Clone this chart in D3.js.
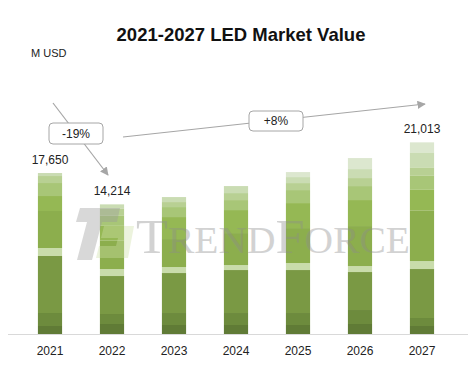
<!DOCTYPE html>
<html>
<head>
<meta charset="utf-8">
<script src="https://cdn.jsdelivr.net/npm/d3@7"></script>
<style>
  body { margin: 0; background: #fff; }
  svg { display: block; font-family: "Liberation Sans", Arial, sans-serif; }
</style>
</head>
<body>
<div id="chart"></div>
<script>
// years and totals shown on the chart
const years = ["2021", "2022", "2023", "2024", "2025", "2026", "2027"];
const totalLabels = ["17,650", "14,214", "", "", "", "", "21,013"];

// stacked layers, bottom to top (M USD)
const layer1 = [877, 1096, 986, 986, 986, 1096, 877];
const layer2 = [1425, 1096, 1315, 1315, 1315, 1534, 877];
const layer3 = [6251, 4165, 4384, 4713, 4713, 4165, 5370];
const layer4 = [877, 767, 658, 548, 767, 658, 877];
const layer5 = [4055, 3145, 3069, 3507, 3836, 4384, 5559];
const layer6 = [1644, 1644, 2411, 2521, 2740, 2850, 2302];
const layer7 = [1425, 1096, 1096, 1096, 1425, 1534, 1534];
const layer8 = [767, 767, 548, 767, 767, 877, 877];
const layer9 = [329, 438, 548, 767, 658, 986, 1644];
const layer10 = [0, 0, 0, 0, 548, 1206, 1096];

const layers = [layer1, layer2, layer3, layer4, layer5, layer6, layer7, layer8, layer9, layer10];
const colors = ["#607b36", "#6d8b3d", "#7a9944", "#c9dcab", "#8cae4d",
                "#95b854", "#a8c677", "#b8d093", "#cadcb3", "#dce7cf"];

const width = 474, height = 368;
const svg = d3.select("#chart").append("svg")
    .attr("width", width)
    .attr("height", height);

const x = d3.scaleBand()
    .domain(years)
    .range([19, 453])
    .paddingInner(0.61)
    .paddingOuter(0.305);

const y = d3.scaleLinear()
    .domain([0, 25000])
    .range([334, 106]);

// stack the layers
const rows = years.map((yr, i) => {
    const row = { year: yr };
    layers.forEach((l, j) => { row["s" + j] = l[i]; });
    return row;
});
const keys = layers.map((l, j) => "s" + j);
const series = d3.stack().keys(keys)(rows);

svg.append("g")
    .selectAll("g")
    .data(series)
    .join("g")
    .attr("fill", (d, i) => colors[i])
    .selectAll("rect")
    .data(d => d)
    .join("rect")
    .attr("x", d => x(d.data.year))
    .attr("y", d => y(d[1]))
    .attr("width", x.bandwidth())
    .attr("height", d => y(d[0]) - y(d[1]));

// baseline
svg.append("line")
    .attr("x1", 8).attr("x2", 468)
    .attr("y1", y(0) + 0.5).attr("y2", y(0) + 0.5)
    .attr("stroke", "#d9d9d9");

// year labels
svg.append("g")
    .selectAll("text")
    .data(years)
    .join("text")
    .attr("x", d => x(d) + x.bandwidth() / 2)
    .attr("y", 355)
    .attr("text-anchor", "middle")
    .attr("font-size", 12)
    .attr("fill", "#222")
    .text(d => d);

// totals above bars
const totals = years.map((yr, i) => d3.sum(layers, l => l[i]));
svg.append("g")
    .selectAll("text")
    .data(years)
    .join("text")
    .attr("x", d => x(d) + x.bandwidth() / 2)
    .attr("y", (d, i) => y(totals[i]) - 9)
    .attr("text-anchor", "middle")
    .attr("font-size", 12)
    .attr("fill", "#222")
    .text((d, i) => totalLabels[i]);

// watermark
const wm = svg.append("g").attr("opacity", 0.38);
wm.append("path")
    .attr("d", "M80,208 L120,208 L117,222 L102,222 L92,260 L77,260 L87,222 L76,222 Z")
    .attr("fill", "#9a9a9a");
wm.append("path")
    .attr("d", "M104,226 L134,226 L128,258 L96,258 L99,246 L116,246 L118,238 L101,238 Z")
    .attr("fill", "#cfe0a8");
wm.append("text")
    .attr("x", 136)
    .attr("y", 253)
    .attr("font-family", "'Liberation Serif', 'DejaVu Serif', serif")
    .attr("font-size", 49)
    .attr("fill", "#8c8c8c")
    .attr("textLength", 274)
    .attr("lengthAdjust", "spacingAndGlyphs")
    .html('T<tspan font-size="37">REND</tspan>F<tspan font-size="37">ORCE</tspan>');

// title and unit
svg.append("text")
    .attr("x", 241)
    .attr("y", 41)
    .attr("text-anchor", "middle")
    .attr("font-size", 18.5)
    .attr("font-weight", "bold")
    .attr("fill", "#111")
    .text("2021-2027 LED Market Value");

svg.append("text")
    .attr("x", 31)
    .attr("y", 57)
    .attr("font-size", 11)
    .attr("fill", "#222")
    .text("M USD");

// growth arrows
const defs = svg.append("defs");
defs.append("marker")
    .attr("id", "arr")
    .attr("viewBox", "0 0 10 10")
    .attr("refX", 9).attr("refY", 5)
    .attr("markerWidth", 7).attr("markerHeight", 7)
    .attr("orient", "auto")
    .append("path")
    .attr("d", "M0,0 L10,5 L0,10 Z")
    .attr("fill", "#a6a6a6");

const arrows = [
    { x1: 53, y1: 103, x2: 108, y2: 175, label: "-19%", bx: 49, by: 123, bw: 54, bh: 21 },
    { x1: 123, y1: 137, x2: 425, y2: 104, label: "+8%", bx: 249, by: 111, bw: 54, bh: 20 }
];

arrows.forEach(a => {
    svg.append("line")
        .attr("x1", a.x1).attr("y1", a.y1)
        .attr("x2", a.x2).attr("y2", a.y2)
        .attr("stroke", "#a6a6a6")
        .attr("stroke-width", 1.2)
        .attr("marker-end", "url(#arr)");
    svg.append("rect")
        .attr("x", a.bx).attr("y", a.by)
        .attr("width", a.bw).attr("height", a.bh)
        .attr("rx", 4)
        .attr("fill", "#fff")
        .attr("stroke", "#a6a6a6");
    svg.append("text")
        .attr("x", a.bx + a.bw / 2)
        .attr("y", a.by + a.bh / 2 + 4)
        .attr("text-anchor", "middle")
        .attr("font-size", 12)
        .attr("fill", "#222")
        .text(a.label);
});
</script>
</body>
</html>
